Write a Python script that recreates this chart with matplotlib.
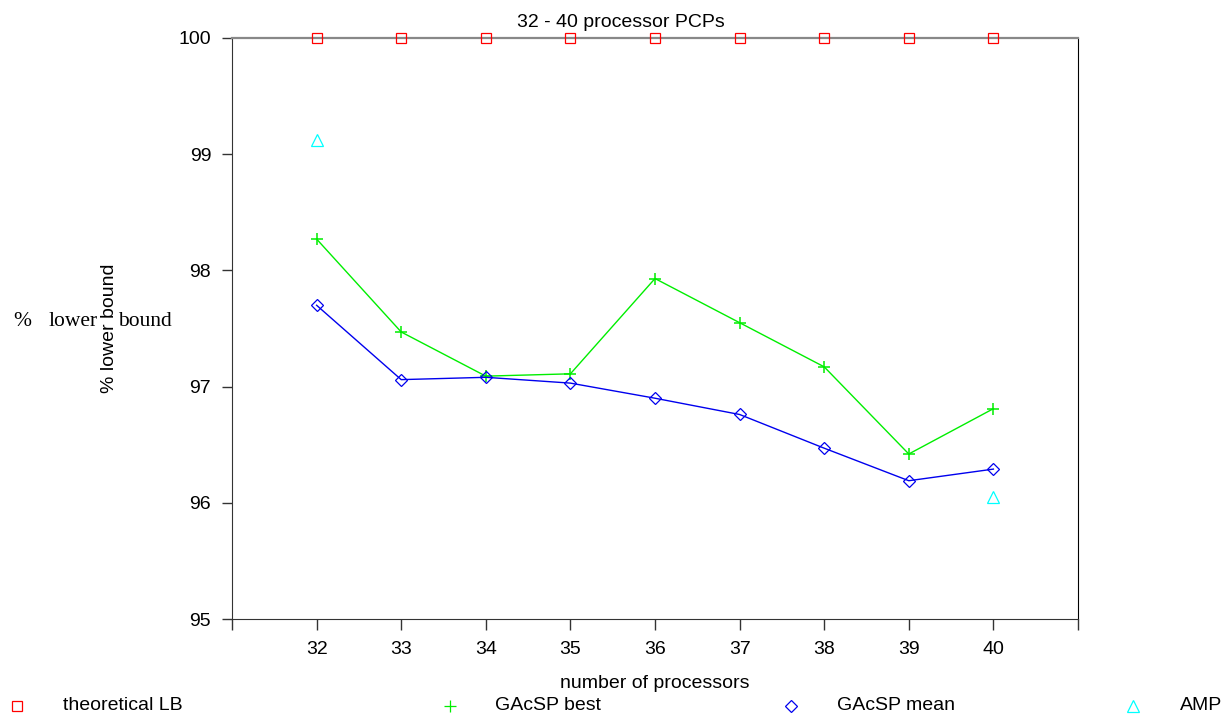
import numpy as np
import matplotlib.pyplot as plt
from matplotlib.lines import Line2D

plt.rcParams['font.family'] = ['Liberation Sans', 'DejaVu Sans']

processors = [32, 33, 34, 35, 36, 37, 38, 39, 40]
theoretical_lb = [100, 100, 100, 100, 100, 100, 100, 100, 100]
gacsp_best = [98.27, 97.47, 97.09, 97.11, 97.93, 97.55, 97.17, 96.42, 96.81]
gacsp_mean = [97.70, 97.06, 97.08, 97.03, 96.90, 96.76, 96.47, 96.19, 96.29]
amp_x = [32, 40]
amp = [99.12, 96.05]

W, H = 1232, 720
fig = plt.figure(figsize=(W / 100, H / 100), dpi=100)
ax = fig.add_axes([232 / W, 1 - 619 / H, (1078 - 232) / W, (619 - 38) / H])

green = '#00ee00'
blue = '#0000ee'

ax.plot(processors, theoretical_lb, ls='none', marker='s', mfc='none', mec='red',
        ms=7, mew=0.9, clip_on=False, zorder=5)
ax.plot(processors, gacsp_best, color=green, lw=1, marker='+', ms=8, mew=1.1)
ax.plot(processors, gacsp_mean, color=blue, lw=1, marker='D', mfc='none',
        ms=6, mew=0.9)
ax.plot(amp_x, amp, ls='none', marker='^', mfc='none', mec='cyan', ms=8, mew=0.9)

ax.set_xlim(31, 41)
ax.set_ylim(95, 100)
ax.set_xticks([31] + processors + [41])
ax.set_xticklabels([''] + [str(p) for p in processors] + [''])
ax.set_yticks([95, 96, 97, 98, 99, 100])
ax.tick_params(direction='out', length=7, width=1, labelsize=14, colors='#333333',
               labelcolor='black', pad=8)
ax.tick_params(axis='x', length=8, pad=8)
for side in ['left', 'bottom']:
    ax.spines[side].set_color('#333333')
ax.spines['top'].set_color('#888888')
ax.spines['top'].set_linewidth(1.6)
ax.spines['right'].set_color('black')

# title sits a little left of the axes centre
fig.text(621 / W, 1 - 27 / H, '32 - 40 processor PCPs', fontsize=14,
         ha='center', va='baseline')
ax.set_ylabel('% lower bound', fontsize=14)
ax.yaxis.set_label_coords(-0.135, 0.5)
ax.set_xlabel('number of processors', fontsize=14)
ax.xaxis.set_label_coords(0.5, -0.097)

# horizontal serif duplicate of the y label
ty = 1 - 321 / H
for tx, word in [(13, '%'), (49, 'lower'), (118, 'bound')]:
    fig.text(tx / W, ty, word, family='Liberation Serif', fontsize=15.5,
             va='center', ha='left')

# legend row along the bottom edge
legend_items = [
    (17, 63, 's', 'red', 'theoretical LB', 7),
    (450, 495, '+', green, 'GAcSP best', 8),
    (791, 837, 'D', blue, 'GAcSP mean', 6),
    (1133, 1180, '^', 'cyan', 'AMP', 8),
]
ly = 1 - 706 / H
for mx, tx, mk, col, label, ms in legend_items:
    fig.add_artist(Line2D([mx / W], [ly], marker=mk, ls='none', mfc='none',
                          mec=col, ms=ms, mew=0.9, transform=fig.transFigure))
    fig.text(tx / W, ly, label, fontsize=14, va='center', ha='left')

plt.savefig('out.png', dpi=100)
